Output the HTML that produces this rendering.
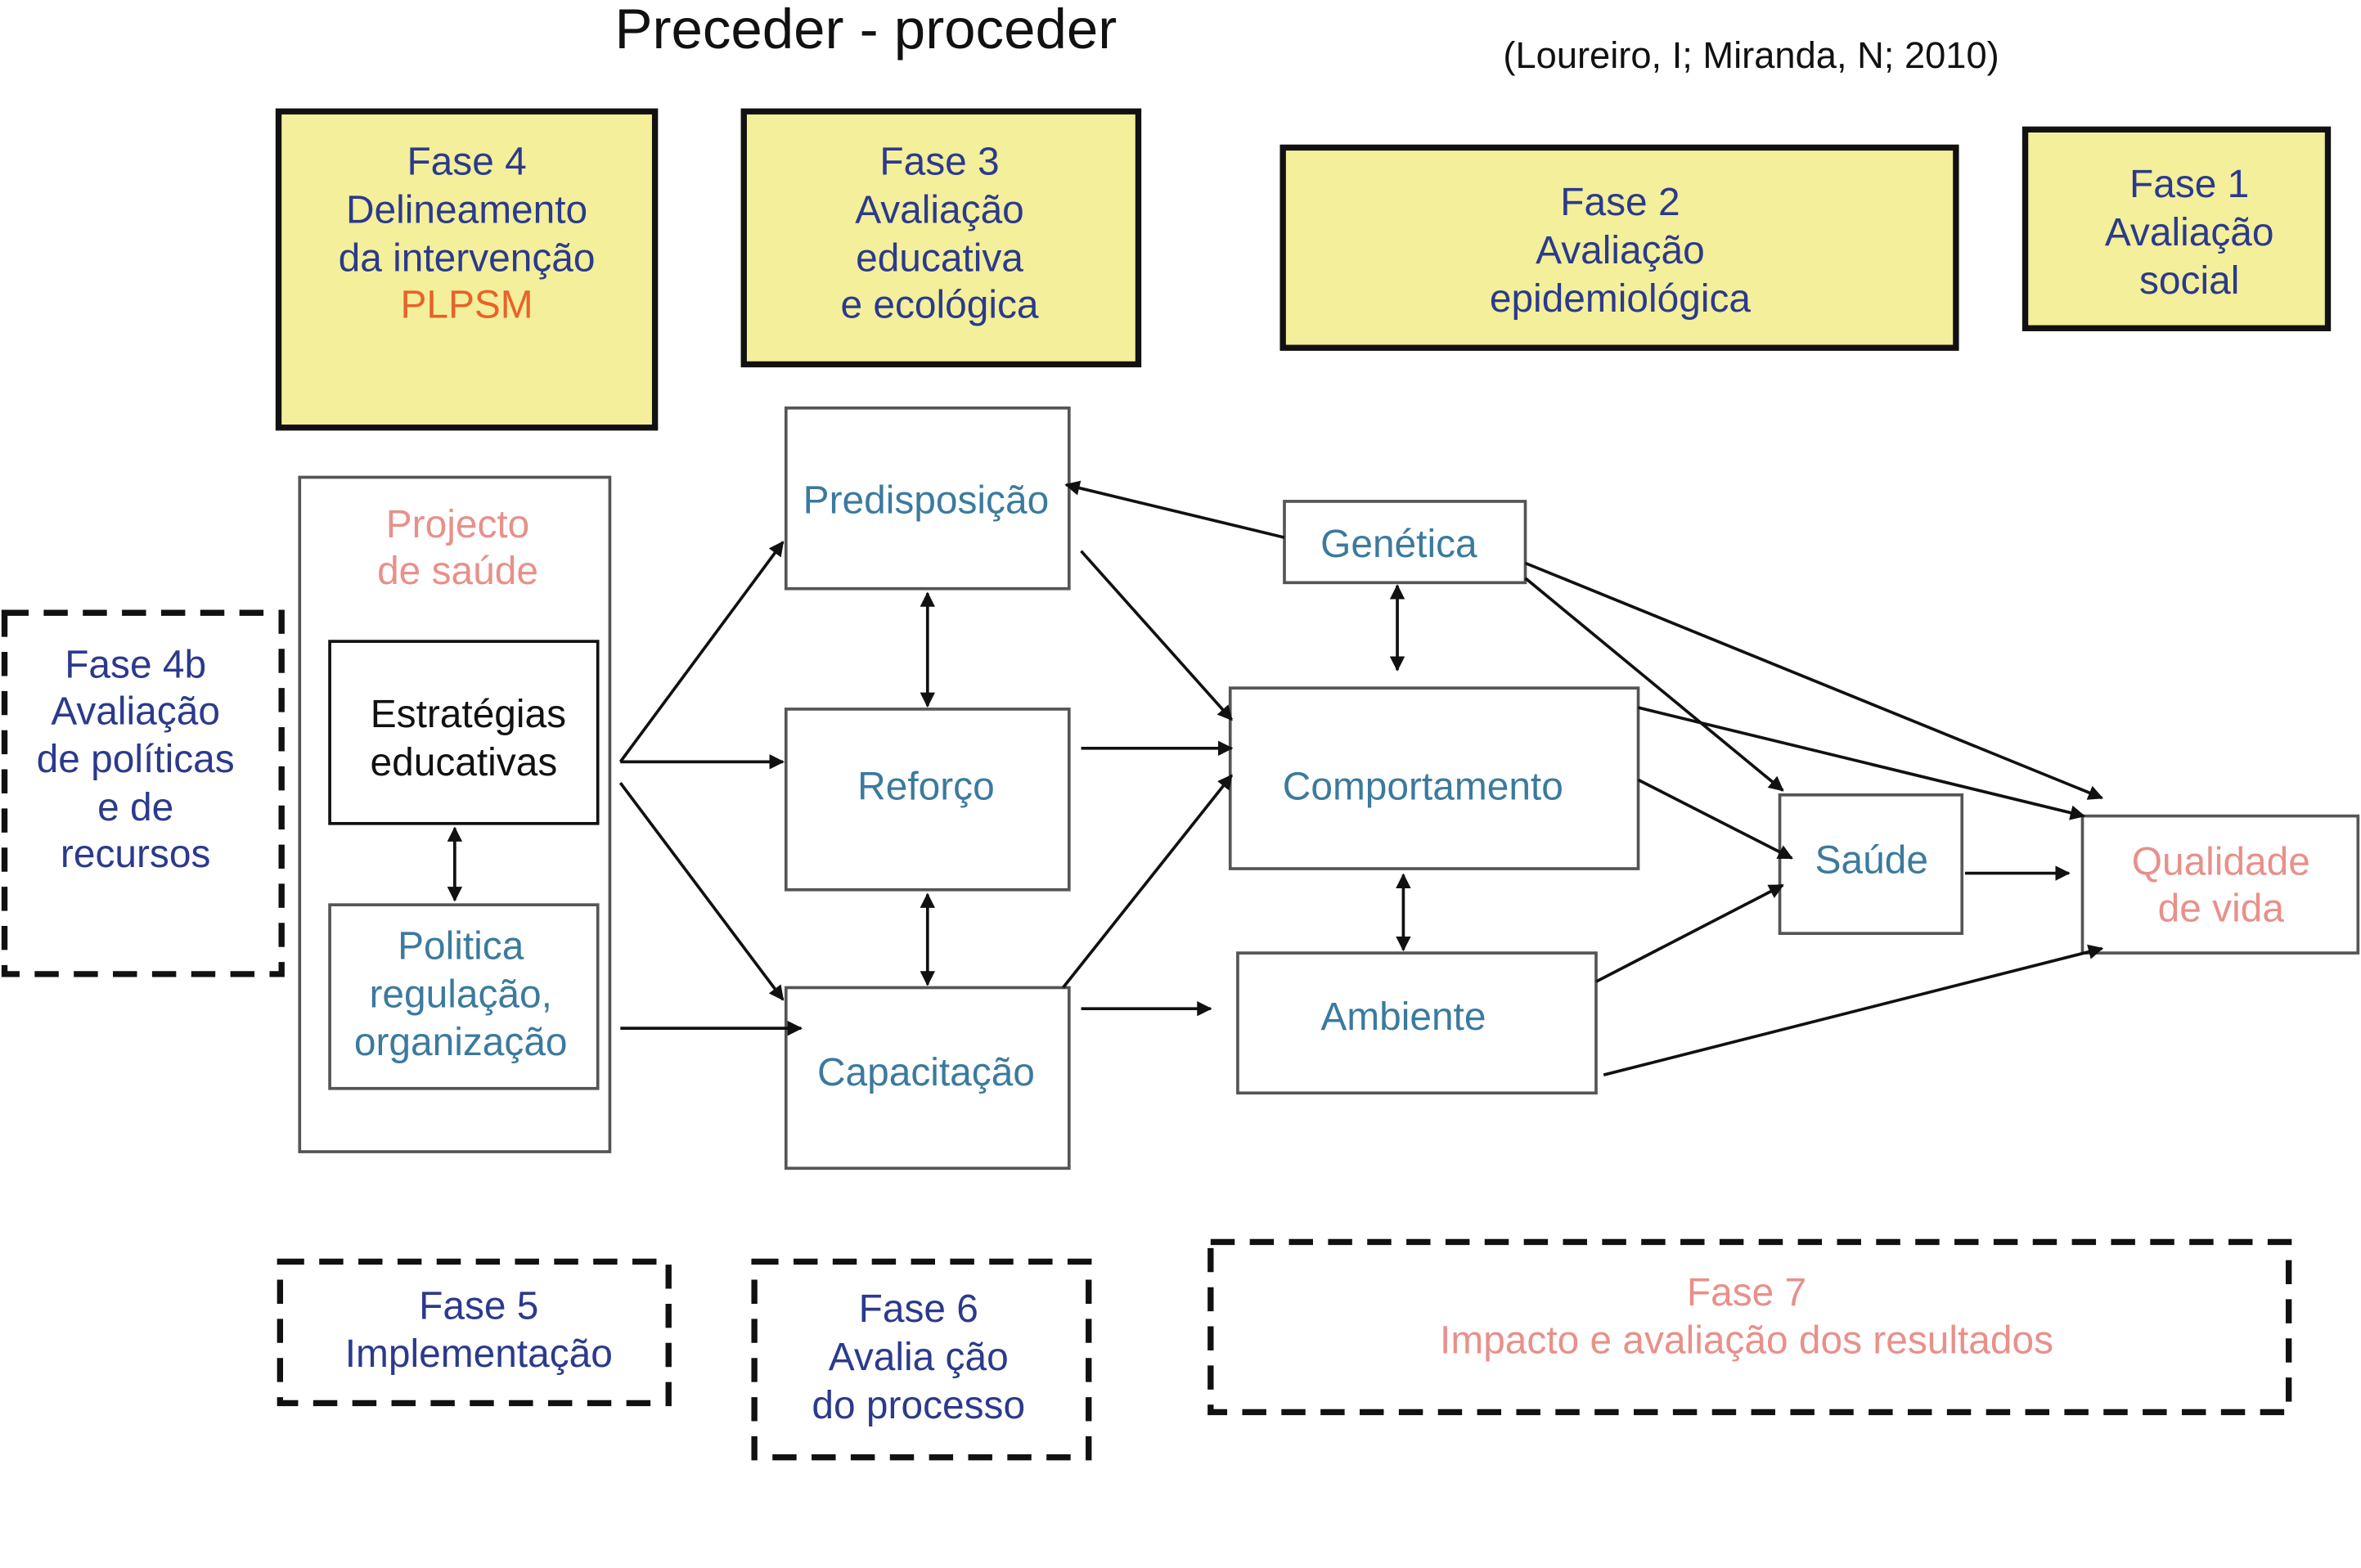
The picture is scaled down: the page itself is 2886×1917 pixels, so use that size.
<!DOCTYPE html>
<html><head><meta charset="utf-8"><style>
html,body{margin:0;padding:0;background:#fff;}
svg{display:block;}
text{font-family:"Liberation Sans",sans-serif;text-anchor:middle;}
.y{fill:#f3ef9a;stroke:#111;stroke-width:4;}
.b{fill:#fff;stroke:#555;stroke-width:2;}
.k{fill:#fff;stroke:#111;stroke-width:2;}
.d{fill:none;stroke:#111;stroke-width:4;stroke-dasharray:16,10;}
.nb{fill:#2b3a8c;font-size:26px;}
.tl{fill:#3b7a9e;font-size:26px;}
.pk{fill:#e8908a;font-size:26px;}
.a{stroke:#111;stroke-width:2;fill:none;marker-end:url(#ah);}
.ab{stroke:#111;stroke-width:2;fill:none;marker-end:url(#ah);marker-start:url(#as);}
</style></head><body>
<svg width="2886" height="1917" viewBox="0 0 1568 1041.5" xmlns="http://www.w3.org/2000/svg">
<defs>
<marker id="ah" markerWidth="10" markerHeight="10" refX="9" refY="5" orient="auto" markerUnits="userSpaceOnUse"><path d="M0,0 L10,5 L0,10 z" fill="#111"/></marker>
<marker id="as" markerWidth="10" markerHeight="10" refX="1" refY="5" orient="auto" markerUnits="userSpaceOnUse"><path d="M10,0 L0,5 L10,10 z" fill="#111"/></marker>
</defs>
<text x="575" y="32" style="font-size:37.5px" fill="#111">Preceder - proceder</text>
<text x="1163" y="45" style="font-size:24.6px" fill="#111">(Loureiro, I; Miranda, N; 2010)</text>

<rect class="y" x="185" y="74" width="250" height="210"/>
<text class="nb" x="310" y="116">Fase 4</text><text class="nb" x="310" y="148">Delineamento</text><text class="nb" x="310" y="180">da intervenção</text><text x="310" y="211" style="font-size:26px" fill="#e8622c">PLPSM</text>
<rect class="y" x="494" y="74" width="262" height="168"/>
<text class="nb" x="624" y="116">Fase 3</text><text class="nb" x="624" y="148">Avaliação</text><text class="nb" x="624" y="180">educativa</text><text class="nb" x="624" y="211">e ecológica</text>
<rect class="y" x="852" y="98" width="447" height="133"/>
<text class="nb" x="1076" y="143">Fase 2</text><text class="nb" x="1076" y="175">Avaliação</text><text class="nb" x="1076" y="207">epidemiológica</text>
<rect class="y" x="1345" y="86" width="201" height="132"/>
<text class="nb" x="1454" y="131">Fase 1</text><text class="nb" x="1454" y="163">Avaliação</text><text class="nb" x="1454" y="195">social</text>

<rect class="b" x="199" y="317" width="206" height="448"/>
<text class="pk" x="304" y="357">Projecto</text><text class="pk" x="304" y="388">de saúde</text>
<rect class="k" x="219" y="426" width="178" height="121"/>
<text x="311" y="483" style="font-size:26px" fill="#111">Estratégias</text><text x="308" y="515" style="font-size:26px" fill="#111">educativas</text>
<rect class="b" x="219" y="601" width="178" height="122"/>
<text class="tl" x="306" y="637">Politica</text><text class="tl" x="306" y="669">regulação,</text><text class="tl" x="306" y="701">organização</text>
<path class="ab" d="M302,550 L302,598"/>

<rect class="d" x="3" y="407" width="184" height="240"/>
<text class="nb" x="90" y="450">Fase 4b</text><text class="nb" x="90" y="481">Avaliação</text><text class="nb" x="90" y="513">de políticas</text><text class="nb" x="90" y="545">e de</text><text class="nb" x="90" y="576">recursos</text>

<rect class="b" x="522" y="271" width="188" height="120"/>
<text class="tl" x="615" y="341">Predisposição</text>
<rect class="b" x="522" y="471" width="188" height="120"/>
<text class="tl" x="615" y="531">Reforço</text>
<rect class="b" x="522" y="656" width="188" height="120"/>
<text class="tl" x="615" y="721">Capacitação</text>
<rect class="b" x="853" y="333" width="160" height="54"/>
<text class="tl" x="929" y="370">Genética</text>
<rect class="b" x="817" y="457" width="271" height="120"/>
<text class="tl" x="945" y="531">Comportamento</text>
<rect class="b" x="822" y="633" width="238" height="93"/>
<text class="tl" x="932" y="684">Ambiente</text>
<rect class="b" x="1182" y="528" width="121" height="92"/>
<text class="tl" x="1243" y="580">Saúde</text>
<rect class="b" x="1383" y="542" width="183" height="91"/>
<text class="pk" x="1475" y="581">Qualidade</text><text class="pk" x="1475" y="612">de vida</text>

<rect class="d" x="186" y="838" width="258" height="94"/>
<text class="nb" x="318" y="876">Fase 5</text><text class="nb" x="318" y="908">Implementação</text>
<rect class="d" x="501" y="838" width="222" height="130"/>
<text class="nb" x="610" y="878">Fase 6</text><text class="nb" x="610" y="910">Avalia ção</text><text class="nb" x="610" y="942">do processo</text>
<rect class="d" x="804" y="825" width="716" height="113"/>
<text class="pk" x="1160" y="867">Fase 7</text><text class="pk" x="1160" y="899">Impacto e avaliação dos resultados</text>

<path class="a" d="M412,506 L520,360"/>
<path class="a" d="M412,506 L520,506"/>
<path class="a" d="M412,520 L520,664"/>
<path class="a" d="M412,683 L532,683"/>
<path class="ab" d="M616,394 L616,469"/>
<path class="ab" d="M616,594 L616,654"/>
<path class="a" d="M718,366 L818,478"/>
<path class="a" d="M718,497 L818,497"/>
<path class="a" d="M706,656 L818,515"/>
<path class="a" d="M718,670 L804,670"/>
<path class="a" d="M853,357 L708,322"/>
<path class="ab" d="M928,389 L928,445"/>
<path class="ab" d="M932,581 L932,631"/>
<path class="a" d="M1013,374 L1396,530"/>
<path class="a" d="M1013,384 L1184,525"/>
<path class="a" d="M1088,470 L1384,542"/>
<path class="a" d="M1088,518 L1190,570"/>
<path class="a" d="M1060,652 L1184,588"/>
<path class="a" d="M1065,714 L1396,630"/>
<path class="a" d="M1305,580 L1374,580"/>
</svg>
</body></html>
